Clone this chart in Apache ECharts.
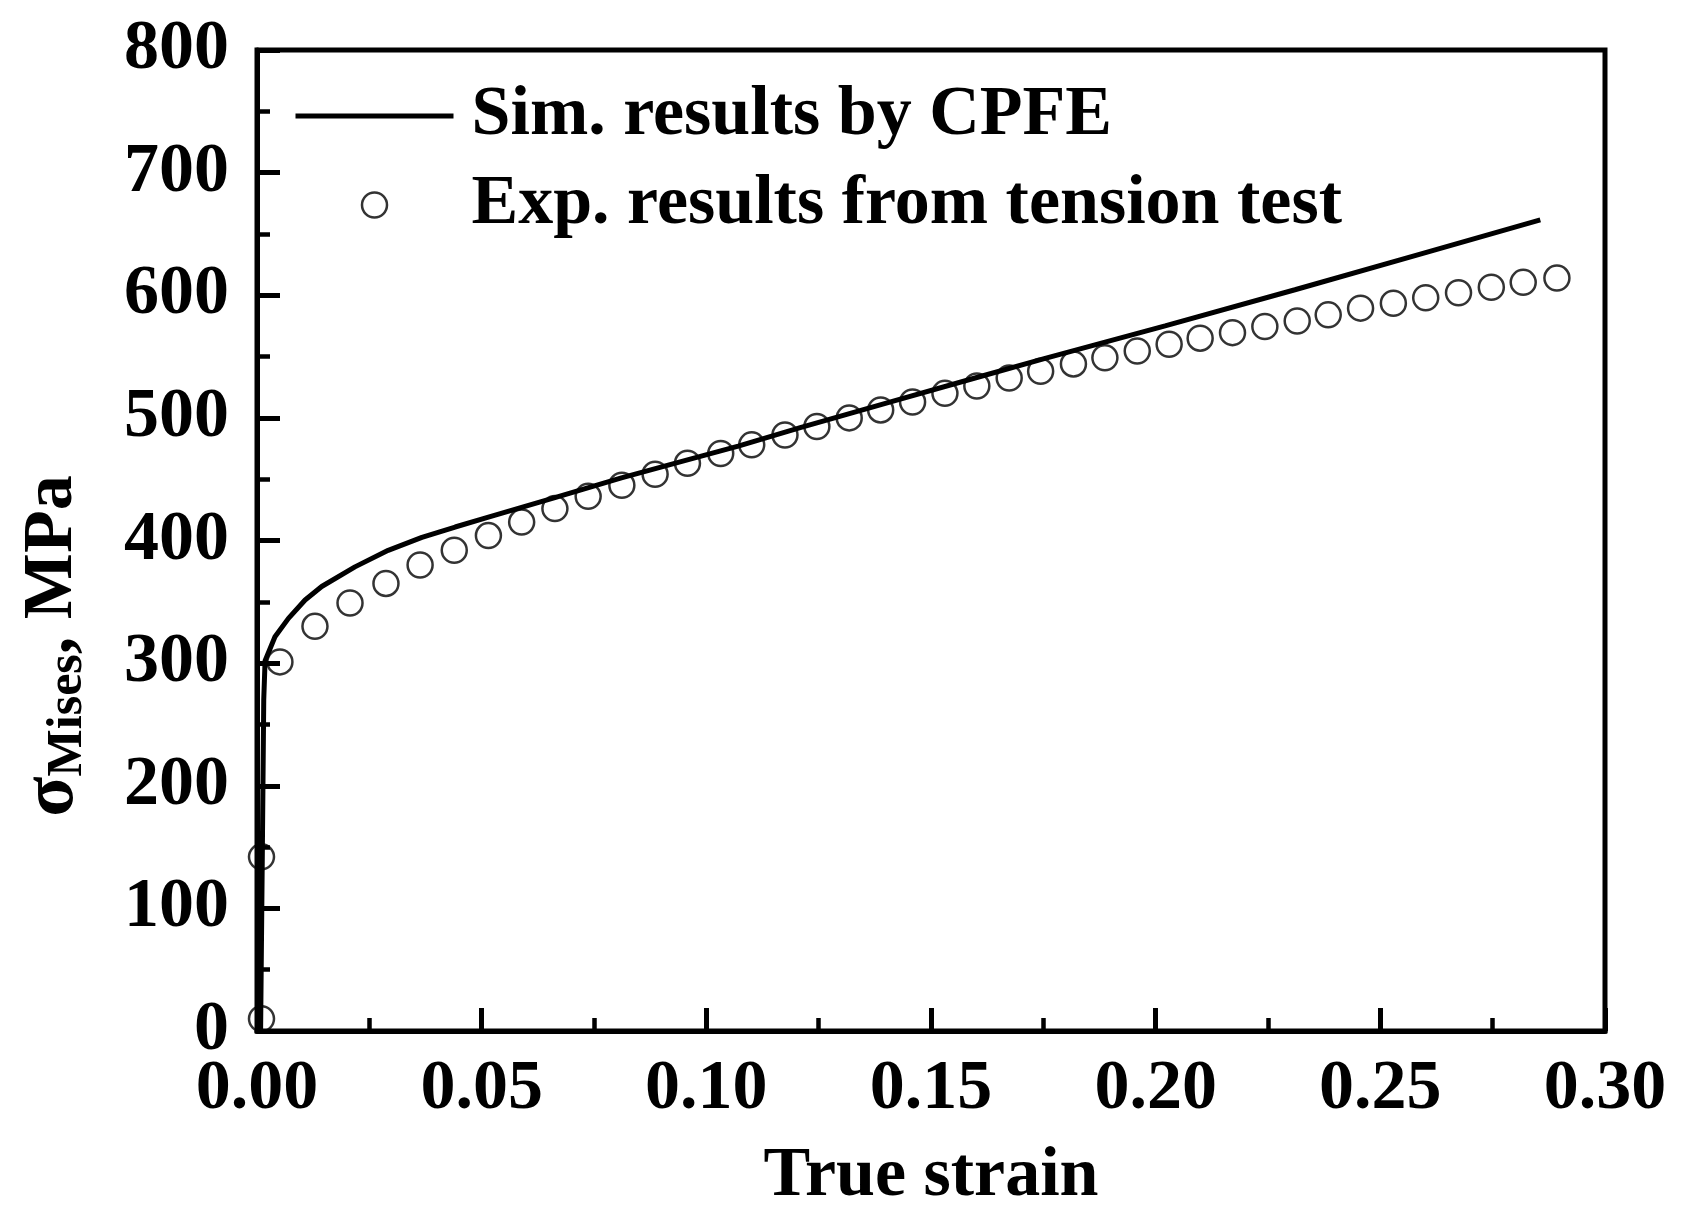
<!DOCTYPE html>
<html>
<head>
<meta charset="utf-8">
<script src="https://cdn.jsdelivr.net/npm/echarts@6/dist/echarts.min.js"></script>
<style>
  html, body { margin: 0; padding: 0; background: #fff; }
  #chart { width: 1695px; height: 1219px; }
</style>
</head>
<body>
<div id="chart"></div>
<script>
// experimental points (tension test)
const expStrain = [0.001, 0.001, 0.0051, 0.0129, 0.0207, 0.0287, 0.0363, 0.0439, 0.0515, 0.0589,
  0.0663, 0.0737, 0.0812, 0.0886, 0.0958, 0.1032, 0.1101, 0.1175, 0.1246, 0.1318,
  0.1388, 0.1459, 0.1531, 0.1602, 0.1674, 0.1744, 0.1817, 0.1887, 0.1959, 0.203,
  0.2099, 0.2171, 0.2243, 0.2315, 0.2384, 0.2456, 0.2529, 0.2601, 0.2674, 0.2747,
  0.2818, 0.2893]
const expStress = [10, 142, 301, 330, 349, 365, 380, 392, 404, 415,
  426, 436, 445, 454, 463, 471, 478, 486, 493, 500,
  506.5, 513, 520, 526, 532.5, 538, 544, 549, 554.5, 560,
  565, 569.5, 574.5, 579, 584, 589.5, 593.5, 598, 602, 606.5,
  610.5, 614]

// CPFE simulation curve
const simStrain = [0.0008, 0.0012, 0.0015, 0.0018, 0.004, 0.007, 0.0107, 0.0144, 0.0218, 0.0292,
  0.0367, 0.0441, 0.0515, 0.0663, 0.0811, 0.096, 0.1071, 0.1209, 0.142, 0.1598,
  0.1754, 0.2021, 0.231, 0.2583, 0.2856]
const simStress = [0, 150, 270, 302, 321.5, 336.5, 351.5, 362.5, 378.5, 392,
  402.5, 411, 419, 435, 451, 466, 477, 492, 514, 532.5,
  548.5, 575, 604.5, 633, 661.5]

const xTickLabels = ['0.00', '0.05', '0.10', '0.15', '0.20', '0.25', '0.30']
const yTickLabels = ['0', '100', '200', '300', '400', '500', '600', '700', '800']

const FONT = 'Liberation Serif'

var chartDom = document.getElementById('chart')
var myChart = echarts.init(chartDom)
var option = {
  animation: false,
  backgroundColor: '#fff',
  grid: {
    left: 257,
    right: 90,
    top: 50,
    bottom: 188,
    show: true,
    borderColor: '#000',
    borderWidth: 5,
    containLabel: false
  },
  legend: {
    orient: 'vertical',
    left: 293,
    top: 76,
    padding: 0,
    itemWidth: 158,
    itemHeight: 25,
    itemGap: 9,
    selectedMode: false,
    textStyle: {
      fontFamily: FONT,
      fontWeight: 'bold',
      fontSize: 70,
      lineHeight: 64,
      color: '#000',
      padding: [16, 0, 0, 13]
    },
    itemStyle: { borderWidth: 2.5 },
    lineStyle: { width: 5 },
    data: [
      // line only, no marker on the legend sample
      { name: 'Sim. results by CPFE', itemStyle: { opacity: 0 } },
      { name: 'Exp. results from tension test' }
    ]
  },
  xAxis: {
    type: 'value',
    min: 0,
    max: 0.3,
    interval: 0.05,
    name: 'True strain',
    nameLocation: 'middle',
    nameGap: 111,
    nameTextStyle: {
      fontFamily: FONT,
      fontWeight: 'bold',
      fontSize: 70,
      color: '#000'
    },
    axisLine: { lineStyle: { color: '#000', width: 5 } },
    axisTick: { inside: true, length: 23, lineStyle: { color: '#000', width: 5 } },
    minorTick: { show: true, splitNumber: 2, length: 13, lineStyle: { color: '#000', width: 4.5 } },
    splitLine: { show: false },
    axisLabel: {
      margin: 24,
      fontFamily: FONT,
      fontWeight: 'bold',
      fontSize: 70,
      color: '#000',
      formatter: (v, i) => xTickLabels[i]
    }
  },
  yAxis: {
    type: 'value',
    min: 0,
    max: 800,
    interval: 100,
    name: '{s|σ}{sub|Mises}{m|, MPa}',
    nameLocation: 'middle',
    nameRotate: 90,
    nameGap: 164,
    nameTextStyle: {
      padding: [0, 211, 0, 0],
      rich: {
        s: { fontFamily: FONT, fontWeight: 'bold', fontSize: 74, lineHeight: 80, color: '#000' },
        m: { fontFamily: FONT, fontWeight: 'bold', fontSize: 70, lineHeight: 80, color: '#000' },
        sub: { fontFamily: FONT, fontWeight: 'bold', fontSize: 50, lineHeight: 40, verticalAlign: 'bottom', color: '#000' }
      }
    },
    axisLine: { lineStyle: { color: '#000', width: 5 } },
    axisTick: { inside: true, length: 23, lineStyle: { color: '#000', width: 5 } },
    minorTick: { show: true, splitNumber: 2, length: 13, lineStyle: { color: '#000', width: 4.5 } },
    splitLine: { show: false },
    axisLabel: {
      margin: 28,
      padding: [12, 0, 0, 0],
      fontFamily: FONT,
      fontWeight: 'bold',
      fontSize: 70,
      color: '#000',
      formatter: (v, i) => yTickLabels[i]
    }
  },
  series: [
    {
      name: 'Exp. results from tension test',
      type: 'scatter',
      symbol: 'circle',
      symbolSize: 25,
      itemStyle: { color: 'rgba(0,0,0,0)', borderColor: '#000', borderWidth: 2.5 },
      data: expStrain.map((x, i) => [x, expStress[i]]),
      z: 2
    },
    {
      name: 'Sim. results by CPFE',
      type: 'line',
      showSymbol: false,
      symbol: 'none',
      lineStyle: { color: '#000', width: 5 },
      itemStyle: { color: '#000' },
      data: simStrain.map((x, i) => [x, simStress[i]]),
      z: 3
    }
  ]
}
myChart.setOption(option)
</script>
</body>
</html>
